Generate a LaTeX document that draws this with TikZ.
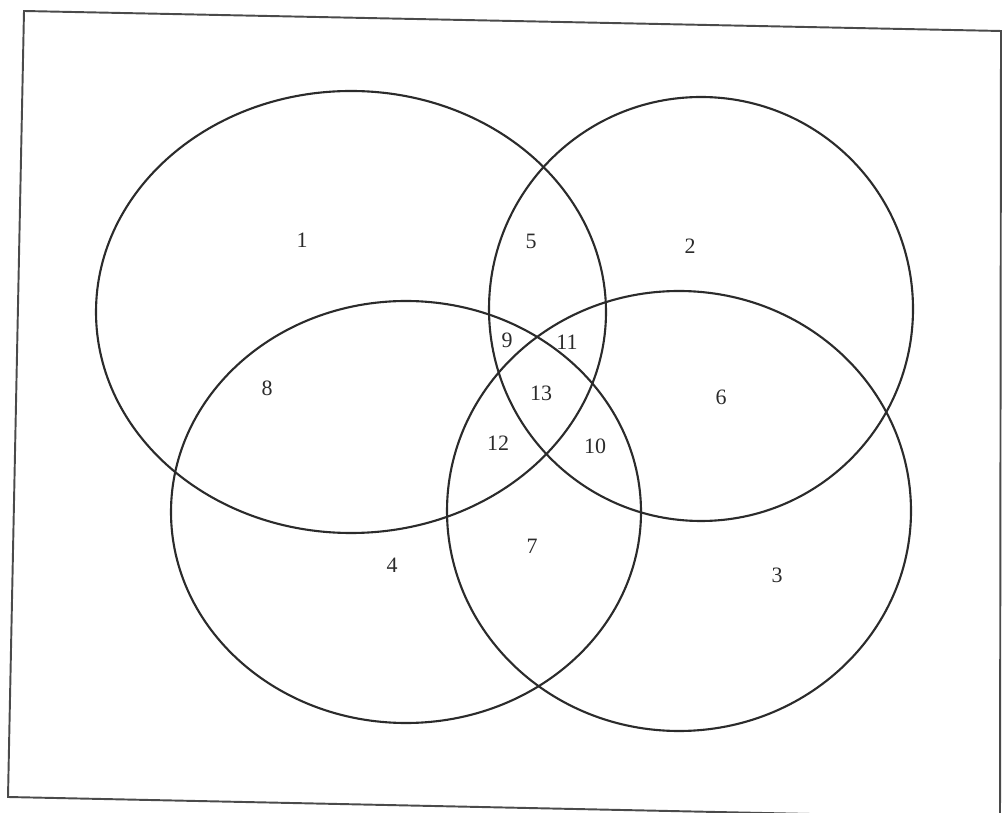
\documentclass[tikz,border=0pt]{standalone}
\usepackage{fontspec}
\setmainfont{Liberation Serif}
\usepackage{tikz}
\usetikzlibrary{positioning}
\definecolor{InkDark}{HTML}{2B2B2B}
\definecolor{FrameInk}{HTML}{4A4A4A}
\tikzset{
  setline/.style={draw=InkDark,line width=1.2pt},
  frameline/.style={draw=FrameInk,line width=1.1pt},
  regionlabel/.style={font=\fontsize{12.5}{14}\selectfont,text=InkDark,inner sep=1pt}
}

\begin{document}
\begin{tikzpicture}[x=0.02cm,y=-0.02cm]
\useasboundingbox (0,0) rectangle (1007,813);
\clip (0,0) rectangle (1007,813);
% frame (scan is slightly tilted)
\draw[frameline] (24,11) -- (1001,31) -- (1000,818) -- (8,797) -- cycle;
% the four sets
\draw[setline] (351,312) ellipse [x radius=255,y radius=221];
\draw[setline] (701,309) ellipse [x radius=212,y radius=212];
\draw[setline] (679,511) ellipse [x radius=232,y radius=220];
\draw[setline] (406,512) ellipse [x radius=235,y radius=211];
% region numbers
\node[regionlabel] (r1) at (302,240) {1};
\node[regionlabel] (r2) at (690,246) {2};
\node[regionlabel] (r3) at (777,575) {3};
\node[regionlabel] (r4) at (392,565) {4};
\node[regionlabel] (r5) at (531,241) {5};
\node[regionlabel] (r6) at (721,397) {6};
\node[regionlabel] (r7) at (532,546) {7};
\node[regionlabel] (r8) at (267,388) {8};
\node[regionlabel] (r9) at (507,340) {9};
\node[regionlabel] (r10) at (595,446) {10};
\node[regionlabel] (r11) at (567,342) {11};
\node[regionlabel] (r12) at (498,443) {12};
\node[regionlabel] (r13) at (541,393) {13};
\end{tikzpicture}
\end{document}
